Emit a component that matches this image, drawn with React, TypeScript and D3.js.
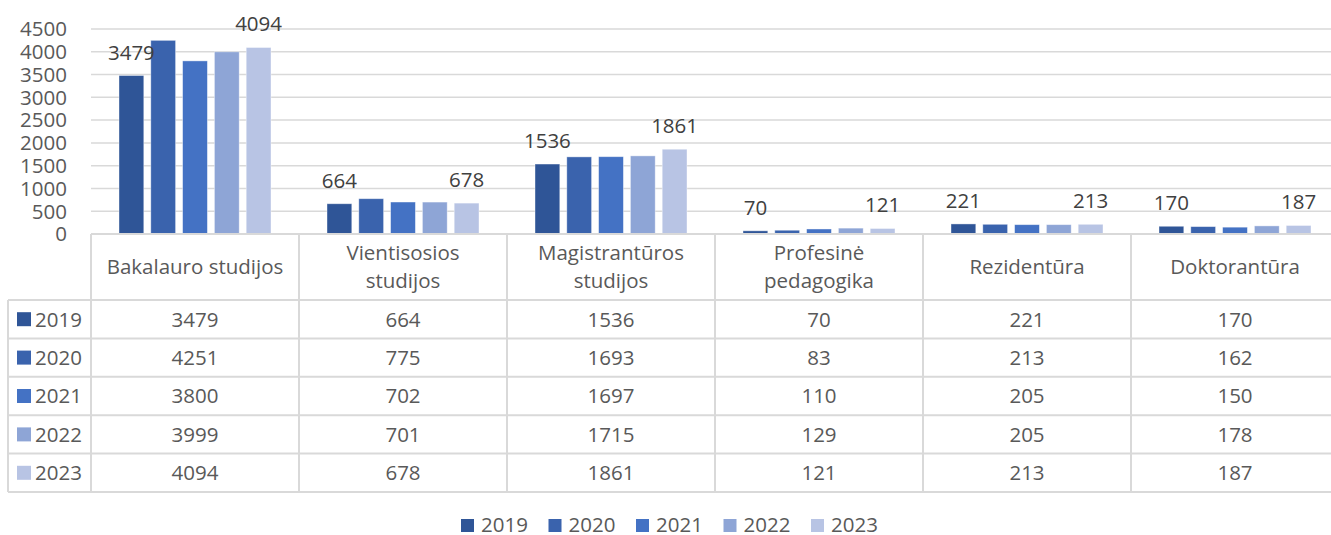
import React from "react";
import * as d3 from "d3";

const categories = [
  ["Bakalauro studijos"],
  ["Vientisosios", "studijos"],
  ["Magistrantūros", "studijos"],
  ["Profesinė", "pedagogika"],
  ["Rezidentūra"],
  ["Doktorantūra"],
];
const years = ["2019", "2020", "2021", "2022", "2023"];
const v2019 = [3479, 664, 1536, 70, 221, 170];
const v2020 = [4251, 775, 1693, 83, 213, 162];
const v2021 = [3800, 702, 1697, 110, 205, 150];
const v2022 = [3999, 701, 1715, 129, 205, 178];
const v2023 = [4094, 678, 1861, 121, 213, 187];
const series = [v2019, v2020, v2021, v2022, v2023];
const colors = ["#2f5597", "#3a63ad", "#4472c4", "#8ea5d6", "#b8c4e4"];
const yTicks = [0, 500, 1000, 1500, 2000, 2500, 3000, 3500, 4000, 4500];

const W = 1331;
const H = 535;
const FONT = "'Open Sans', Carlito, Calibri, sans-serif";
const TXT = "#595959";
const GRID = "#d9d9d9";
const FS = 20.5;

export default function App() {
  const y = d3.scaleLinear().domain([0, 4500]).range([234, 29]);
  const x = d3
    .scaleBand<number>()
    .domain(categories.map((_, i) => i))
    .range([91, 91 + 208 * 6]);
  const xi = d3
    .scaleBand<number>()
    .domain(years.map((_, i) => i))
    .range([28, 180])
    .paddingInner(0.22);

  const tableTop = 234;
  const headBottom = 300;
  const rowH = 38.4;
  const tableBottom = headBottom + rowH * 5;
  const tableLeft = 8;
  const right = 91 + 208 * 6;

  return (
    <svg
      width={W}
      height={H}
      style={{ position: "absolute", left: 0, top: 0, background: "#fff" }}
      fontFamily={FONT}
    >
      <rect width={W} height={H} fill="#fff" />
      {yTicks.map((t) =>
        t === 0 ? null : (
          <line key={t} x1={91} x2={W} y1={y(t)} y2={y(t)} stroke={GRID} strokeWidth={1.5} />
        )
      )}
      {yTicks.map((t) => (
        <text key={"yt" + t} x={67} y={y(t)} dy="0.36em" textAnchor="end" fontSize={FS} fill={TXT}>
          {t}
        </text>
      ))}
      {series.map((s, si) =>
        s.map((v, ci) => {
          const bx = (x(ci) as number) + (xi(si) as number);
          return (
            <rect
              key={si + "-" + ci}
              x={bx}
              y={y(v)}
              width={xi.bandwidth()}
              height={y(0) - y(v)}
              fill={colors[si]}
              stroke="#fff"
              strokeOpacity={0.5}
              strokeWidth={0.8}
            />
          );
        })
      )}
      {[0, 4].map((si) =>
        series[si].map((v, ci) => {
          const cx = (x(ci) as number) + (xi(si) as number) + xi.bandwidth() / 2;
          return (
            <text
              key={"dl" + si + "-" + ci}
              x={cx}
              y={y(v) - 16}
              textAnchor="middle"
              fontSize={FS}
              fill="#404040"
            >
              {v}
            </text>
          );
        })
      )}
      <line x1={91} x2={right} y1={tableTop} y2={tableTop} stroke={GRID} strokeWidth={2} />
      <line x1={tableLeft} x2={right} y1={headBottom} y2={headBottom} stroke={GRID} strokeWidth={2} />
      {years.map((_, ri) => (
        <line
          key={"hl" + ri}
          x1={tableLeft}
          x2={right}
          y1={headBottom + rowH * (ri + 1)}
          y2={headBottom + rowH * (ri + 1)}
          stroke={GRID}
          strokeWidth={2}
        />
      ))}
      <line x1={tableLeft} x2={tableLeft} y1={headBottom} y2={tableBottom} stroke={GRID} strokeWidth={2} />
      {categories.map((_, ci) => (
        <line
          key={"vl" + ci}
          x1={x(ci) as number}
          x2={x(ci) as number}
          y1={tableTop}
          y2={tableBottom}
          stroke={GRID}
          strokeWidth={2}
        />
      ))}
      {categories.map((lines, ci) => {
        const cx = (x(ci) as number) + x.bandwidth() / 2;
        const mid = (tableTop + headBottom) / 2;
        return (
          <text key={"cl" + ci} textAnchor="middle" fontSize={FS} fill={TXT}>
            {lines.map((l, li) => (
              <tspan
                key={li}
                x={cx}
                y={mid + (li - (lines.length - 1) / 2) * 28}
                dy="0.36em"
              >
                {l}
              </tspan>
            ))}
          </text>
        );
      })}
      {years.map((yr, ri) => {
        const cy = headBottom + rowH * ri + rowH / 2;
        return (
          <g key={"row" + yr}>
            <rect x={17} y={cy - 7} width={14} height={14} fill={colors[ri]} />
            <text x={35} y={cy} dy="0.36em" fontSize={FS} fill={TXT}>
              {yr}
            </text>
            {series[ri].map((v, ci) => (
              <text
                key={ci}
                x={(x(ci) as number) + x.bandwidth() / 2}
                y={cy}
                dy="0.36em"
                textAnchor="middle"
                fontSize={FS}
                fill={TXT}
              >
                {v}
              </text>
            ))}
          </g>
        );
      })}
      {years.map((yr, i) => {
        const lx = 461 + i * 87.5;
        return (
          <g key={"lg" + yr}>
            <rect x={lx} y={519} width={13} height={13} fill={colors[i]} />
            <text x={lx + 20} y={525} dy="0.36em" fontSize={FS} fill={TXT}>
              {yr}
            </text>
          </g>
        );
      })}
    </svg>
  );
}
